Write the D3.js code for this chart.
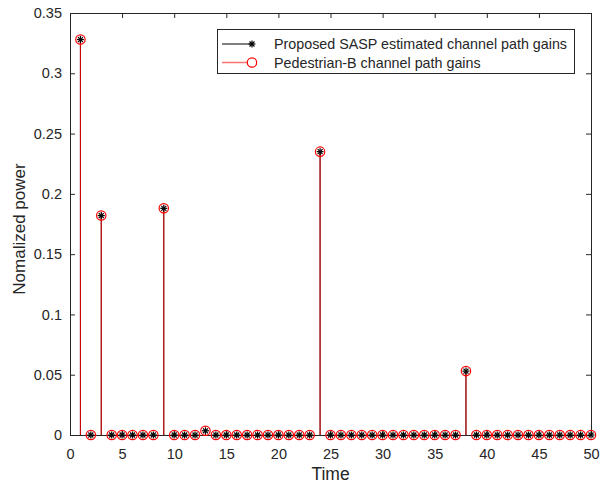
<!DOCTYPE html>
<html lang="en">
<head>
<meta charset="UTF-8">
<title>Channel path gains</title>
<script src="https://cdn.jsdelivr.net/npm/d3@7"></script>
<style>
    body { margin: 0; background: #fff; }
    svg text { font-family: "Liberation Sans", Arial, sans-serif; fill: #262626; }
</style>
</head>
<body>
<div id="chart"></div>
<script>
// tap index 1..50
var taps = d3.range(1, 51);
// non-zero taps: [index, value]
var pedestrianB = [[1, 0.328], [3, 0.182], [9, 0.188], [13, 0.0035], [24, 0.235], [38, 0.053]];
var estimated = [[1, 0.328], [3, 0.182], [9, 0.188], [13, 0.0035], [24, 0.235], [38, 0.053]];
var xTicks = [0, 5, 10, 15, 20, 25, 30, 35, 40, 45, 50];
var yTicks = [0, 0.05, 0.1, 0.15, 0.2, 0.25, 0.3, 0.35];
var seriesNames = ["Proposed SASP estimated channel path gains", "Pedestrian-B channel path gains"];

function fullSeries(pairs) {
    var m = new Map(pairs);
    return taps.map(function (t) { return {x: t, y: m.has(t) ? m.get(t) : 0}; });
}
var estData = fullSeries(estimated);
var pedData = fullSeries(pedestrianB);

var W = 601, H = 485;
var pL = 70, pR = 591, pT = 13, pB = 435;

var svg = d3.select("#chart").append("svg").attr("width", W).attr("height", H);

var x = d3.scaleLinear().domain([0, 50]).range([pL, pR]);
var y = d3.scaleLinear().domain([0, 0.35]).range([pB, pT]);

// axes (MATLAB style: ticks inward, box on)
var axB = svg.append("g").attr("transform", "translate(0," + pB + ")")
    .call(d3.axisBottom(x).tickValues(xTicks).tickSizeInner(-5).tickSizeOuter(0).tickPadding(14).tickFormat(d3.format("d")));
var axT = svg.append("g").attr("transform", "translate(0," + pT + ")")
    .call(d3.axisTop(x).tickValues(xTicks).tickSizeInner(-5).tickSizeOuter(0).tickFormat(""));
var axL = svg.append("g").attr("transform", "translate(" + pL + ",0)")
    .call(d3.axisLeft(y).tickValues(yTicks).tickSizeInner(-5).tickSizeOuter(0).tickPadding(8).tickFormat(function (d) { return d === 0 ? "0" : String(+d.toFixed(2)); }));
var axR = svg.append("g").attr("transform", "translate(" + pR + ",0)")
    .call(d3.axisRight(y).tickValues(yTicks).tickSizeInner(-5).tickSizeOuter(0).tickFormat(""));

[axB, axT, axL, axR].forEach(function (a) {
    a.select(".domain").attr("stroke", "#262626");
    a.selectAll(".tick line").attr("stroke", "#262626");
    a.selectAll("text").attr("font-size", 14.5).attr("font-family", "Liberation Sans, Arial, sans-serif").attr("fill", "#262626");
});

svg.append("text").attr("x", (pL + pR) / 2).attr("y", 480)
    .attr("text-anchor", "middle").attr("font-size", 17.5).text("Time");
svg.append("text").attr("transform", "translate(25,229) rotate(-90)")
    .attr("text-anchor", "middle").attr("font-size", 17).text("Nomalized power");

// stems
var plot = svg.append("g");
plot.selectAll(".stemE").data(estData).enter().append("line")
    .attr("x1", function (d) { return x(d.x); }).attr("x2", function (d) { return x(d.x); })
    .attr("y1", y(0)).attr("y2", function (d) { return y(d.y); })
    .attr("stroke", "#000").attr("stroke-width", 1);
plot.selectAll(".stemP").data(pedData).enter().append("line")
    .attr("x1", function (d) { return x(d.x); }).attr("x2", function (d) { return x(d.x); })
    .attr("y1", y(0)).attr("y2", function (d) { return y(d.y); })
    .attr("stroke", "#ff0000").attr("stroke-width", 1).attr("stroke-opacity", 0.85);

function asterisk(g, cx, cy, r) {
    var a = g.append("g").attr("transform", "translate(" + cx + "," + cy + ")")
        .attr("stroke", "#000").attr("stroke-width", 1.2);
    [0, 45, 90, 135].forEach(function (ang) {
        var rad = ang * Math.PI / 180;
        a.append("line").attr("x1", -r * Math.cos(rad)).attr("y1", -r * Math.sin(rad))
            .attr("x2", r * Math.cos(rad)).attr("y2", r * Math.sin(rad));
    });
}

// markers: red circles first, black asterisks on top
plot.selectAll(".mP").data(pedData).enter().append("circle")
    .attr("cx", function (d) { return x(d.x); }).attr("cy", function (d) { return y(d.y); })
    .attr("r", 4.7).attr("fill", "none").attr("stroke", "#ff0000").attr("stroke-width", 1.2);
estData.forEach(function (d) { asterisk(plot, x(d.x), y(d.y), 3.5); });

// legend
var lg = svg.append("g");
lg.append("rect").attr("x", 217.5).attr("y", 29.5).attr("width", 357).attr("height", 44)
    .attr("fill", "#fff").attr("stroke", "#262626").attr("stroke-width", 1);
lg.append("line").attr("x1", 222).attr("x2", 252).attr("y1", 44).attr("y2", 44).attr("stroke", "#000");
asterisk(lg, 252, 44, 3.5);
lg.append("line").attr("x1", 222).attr("x2", 252).attr("y1", 62.5).attr("y2", 62.5).attr("stroke", "#ff7070").attr("stroke-width", 1.5);
lg.append("circle").attr("cx", 252).attr("cy", 62.5).attr("r", 4.7).attr("fill", "#fff").attr("stroke", "#ff0000").attr("stroke-width", 1.2);
lg.append("text").attr("x", 274).attr("y", 49).attr("font-size", 14.3).text(seriesNames[0]);
lg.append("text").attr("x", 274).attr("y", 67.7).attr("font-size", 14.3).text(seriesNames[1]);
</script>
</body>
</html>
